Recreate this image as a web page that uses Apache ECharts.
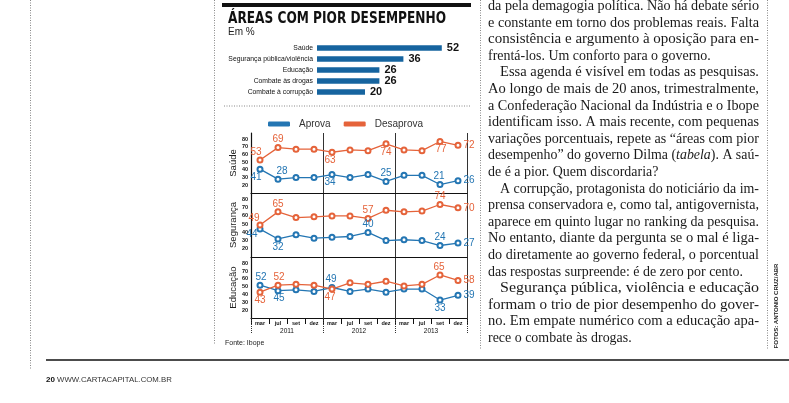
<!DOCTYPE html>
<html><head><meta charset="utf-8">
<script src="https://cdn.jsdelivr.net/npm/echarts@6/dist/echarts.min.js"></script>
<style>html,body{margin:0;padding:0;background:#fff}#c{width:789px;height:403px}</style>
</head><body><div id="c"></div>
<script>
// ---------- data ----------
const barCategories = ['Saúde', 'Segurança pública/violência', 'Educação', 'Combate às drogas', 'Combate à corrupção'];
const barValues = [52, 36, 26, 26, 20];

const months = ['mar','jul','set','dez','mar','jul','set','dez','mar','jul','set','dez'];
const years = ['2011', '2012', '2013'];
const yTicks = [20, 30, 40, 50, 60, 70, 80];

const saudeAprova    = [41, 28, 30, 30, 34, 30, 34, 25, 33, 33, 21, 26];
const saudeDesaprova = [53, 69, 67, 67, 63, 66, 65, 74, 66, 65, 77, 72];
const segAprova      = [44, 32, 37, 33, 34, 35, 40, 30, 31, 30, 24, 27];
const segDesaprova   = [49, 65, 58, 59, 60, 60, 57, 67, 65, 66, 74, 70];
const eduAprova      = [52, 45, 46, 44, 49, 44, 47, 43, 47, 47, 33, 39];
const eduDesaprova   = [43, 52, 53, 52, 47, 55, 53, 57, 51, 53, 65, 58];

// which points carry a value label, and where the label sits relative to the point
const saudeAprovaLbl    = {0:[-4,8], 1:[4,-8], 4:[-2,8], 7:[0,-8], 10:[-1,-8], 11:[11,0]};
const saudeDesaprovaLbl = {0:[-4,-8], 1:[0,-8], 4:[-2,8], 7:[0,8], 10:[1,8], 11:[11,0]};
const segAprovaLbl      = {0:[-8,5], 1:[0,8], 6:[0,-8], 10:[0,-8], 11:[11,0]};
const segDesaprovaLbl   = {0:[-6,-7], 1:[0,-8], 6:[0,-8], 10:[0,-8], 11:[11,0]};
const eduAprovaLbl      = {0:[1,-8], 1:[1,8], 4:[-1,-8], 10:[0,8], 11:[11,0]};
const eduDesaprovaLbl   = {0:[0,8], 1:[1,-8], 4:[-2,8], 10:[-1,-8], 11:[11,0]};

// ---------- text ----------
const bodyLines = [
  ['da pela demagogia política. Não há debate sério', 0, 1],
  ['e constante em torno dos problemas reais. Falta', 0, 1],
  ['consistência e argumento à oposição para en-', 0, 1],
  ['frentá-los. Um conforto para o governo.', 0, 0],
  ['Essa agenda é visível em todas as pesquisas.', 1, 1],
  ['Ao longo de mais de 20 anos, trimestralmente,', 0, 1],
  ['a Confederação Nacional da Indústria e o Ibope', 0, 1],
  ['identificam isso. A mais recente, com pequenas', 0, 1],
  ['variações porcentuais, repete as “áreas com pior', 0, 1],
  ['RICH', 0, 1],
  ['de é a pior. Quem discordaria?', 0, 0],
  ['A corrupção, protagonista do noticiário da im-', 1, 1],
  ['prensa conservadora e, como tal, antigovernista,', 0, 1],
  ['aparece em quinto lugar no ranking da pesquisa.', 0, 1],
  ['No entanto, diante da pergunta se o mal é liga-', 0, 1],
  ['do diretamente ao governo federal, o porcentual', 0, 1],
  ['das respostas surpreende: é de zero por cento.', 0, 0],
  ['Segurança pública, violência e educação', 1, 1],
  ['formam o trio de pior desempenho do gover-', 0, 1],
  ['no. Em empate numérico com a educação apa-', 0, 1],
  ['rece o combate às drogas.', 0, 0]
];
const richParts = ['desempenho” do governo Dilma (', 'tabela', '). A saú-'];

const ctx = document.createElement('canvas').getContext('2d');
function measure(t, f) { ctx.font = f; return ctx.measureText(t).width; }
const SERIF = '"Liberation Serif", "DejaVu Serif", serif';
const FS = 15;
const bodyFont = FS + 'px ' + SERIF;
const bodyItalic = 'italic ' + FS + 'px ' + SERIF;
const colLeft = 488, colRight = 759, indent = 12, lineTop = 6, lineStep = 16.6;
const endScale = 0.93;

const graphics = [];
bodyLines.forEach((ln, i) => {
  const x = colLeft + (ln[1] ? indent : 0);
  const y = lineTop + i * lineStep;
  let w, style;
  if (ln[0] === 'RICH') {
    w = measure(richParts[0], bodyFont) + measure(richParts[1], bodyItalic) + measure(richParts[2], bodyFont);
    style = {
      text: '{n|' + richParts[0] + '}{i|' + richParts[1] + '}{n|' + richParts[2] + '}',
      rich: {
        n: {fontSize: FS, fontFamily: SERIF, fill: '#1a1a1a'},
        i: {fontSize: FS, fontFamily: SERIF, fontStyle: 'italic', fill: '#1a1a1a'}
      },
      fill: '#1a1a1a', verticalAlign: 'middle'
    };
  } else {
    w = measure(ln[0], bodyFont);
    style = {text: ln[0], font: bodyFont, fill: '#1a1a1a', verticalAlign: 'middle'};
  }
  let s = ln[2] ? (colRight - x) / w : Math.min(endScale, (colRight - x) / w);
  graphics.push({type: 'text', x: x, y: y, scaleX: s, style: style, z: 10});
});

// title fitted to width
const TITLE = 'ÁREAS COM PIOR DESEMPENHO';
const titleFont = 'bold 15px "Liberation Sans Narrow", "DejaVu Sans Condensed", "Liberation Sans", sans-serif';
const titleScale = 218 / measure(TITLE, titleFont);
graphics.push({type: 'text', x: 228, y: 19, scaleX: titleScale,
  style: {text: TITLE, font: titleFont, fill: '#111', verticalAlign: 'middle'}});
graphics.push({type: 'text', x: 228, y: 32,
  style: {text: 'Em %', font: '10px "Liberation Sans", sans-serif', fill: '#222', verticalAlign: 'middle'}});
graphics.push({type: 'text', x: 225, y: 343,
  style: {text: 'Fonte: Ibope', font: '7px "Liberation Sans", sans-serif', fill: '#222', verticalAlign: 'middle'}});

// decorations
graphics.push({type: 'rect', shape: {x: 222, y: 3, width: 249, height: 4}, style: {fill: '#111'}});
const dotted = {stroke: '#888', lineWidth: 1, lineDash: [1, 1.5]};
graphics.push({type: 'line', shape: {x1: 224, y1: 106, x2: 471, y2: 106}, style: dotted});
graphics.push({type: 'line', shape: {x1: 30.5, y1: 0, x2: 30.5, y2: 370}, style: dotted});
graphics.push({type: 'line', shape: {x1: 214.5, y1: 0, x2: 214.5, y2: 345}, style: dotted});
graphics.push({type: 'line', shape: {x1: 480.5, y1: 0, x2: 480.5, y2: 350}, style: dotted});
graphics.push({type: 'line', shape: {x1: 767.5, y1: 0, x2: 767.5, y2: 350}, style: dotted});
graphics.push({type: 'line', shape: {x1: 46, y1: 360, x2: 789, y2: 360}, style: {stroke: '#111', lineWidth: 1.5}});
graphics.push({type: 'text', x: 46, y: 380,
  style: {text: '{b|20} WWW.CARTACAPITAL.COM.BR',
    rich: {b: {fontSize: 8, fontWeight: 'bold', fontFamily: '"Liberation Sans", sans-serif', fill: '#111'}},
    font: '7.8px "Liberation Sans", sans-serif', fill: '#333', verticalAlign: 'middle'}});
graphics.push({type: 'text', x: 776, y: 306, rotation: Math.PI / 2,
  style: {text: 'FOTOS: ANTONIO CRUZ/ABR', font: 'bold 6px "Liberation Sans", sans-serif', fill: '#222',
    align: 'center', verticalAlign: 'middle'}});

// ---------- chart ----------
const BLUE = '#2476b3', ORANGE = '#e5633a', BAR = '#16649f';
const panelNames = ['Saúde', 'Segurança', 'Educação'];
const panelTops = [133, 193, 257], panelHeights = [60, 64, 61];

function buildData(vals, lbl, color) {
  return vals.map((v, i) => lbl[i] ? {
    value: v,
    label: {show: true, position: 'inside', offset: lbl[i], color: color, fontSize: 10,
      fontFamily: '"Liberation Sans", sans-serif'}
  } : v);
}
function lineSeries(name, vals, lbl, color, idx) {
  return {
    type: 'line', name: name, xAxisIndex: idx + 1, yAxisIndex: idx + 1,
    data: buildData(vals, lbl, color),
    symbol: 'emptyCircle', symbolSize: 5, color: color,
    lineStyle: {width: 1.3, color: color}, itemStyle: {color: color, borderWidth: 1},
    emphasis: {disabled: true}, animation: false, z: 3
  };
}

const grids = [{left: 317, top: 42.5, width: 144, height: 55}];
panelTops.forEach((t, i) => grids.push({left: 251, top: t, width: 216, height: panelHeights[i]}));

const xAxes = [{type: 'value', gridIndex: 0, min: 0, max: 60, show: false}];
for (let i = 0; i < 3; i++) {
  xAxes.push({
    type: 'category', gridIndex: i + 1, data: months, boundaryGap: true,
    axisLine: {show: true, lineStyle: {color: '#111', width: 1.2}},
    axisTick: {show: i === 2, length: 6, interval: 0, lineStyle: {color: '#111'}},
    axisLabel: {show: i === 2, interval: 0, fontSize: 5.5, fontWeight: 'bold', color: '#111', margin: 2,
      fontFamily: '"Liberation Sans", sans-serif'},
    splitLine: {show: true, interval: (idx) => idx === 4 || idx === 8, lineStyle: {color: '#333', width: 1}}
  });
}
xAxes.push({
  type: 'category', gridIndex: 3, data: years, position: 'bottom', boundaryGap: true,
  axisLine: {show: false},
  axisTick: {show: true, length: 15, interval: 0, lineStyle: {color: '#333', type: 'dotted'}},
  axisLabel: {fontSize: 6.5, color: '#111', margin: 10, fontFamily: '"Liberation Sans", sans-serif'}
});

const yAxes = [{
  type: 'category', gridIndex: 0, data: barCategories, inverse: true,
  axisLine: {show: false}, axisTick: {show: false},
  axisLabel: {fontSize: 6.8, color: '#111', margin: 4, fontFamily: '"Liberation Sans", sans-serif'}
}];
for (let i = 0; i < 3; i++) {
  yAxes.push({
    type: 'value', gridIndex: i + 1, min: 10, max: 88, interval: 10,
    name: panelNames[i], nameLocation: 'middle', nameGap: 13, nameRotate: 90,
    nameTextStyle: {fontSize: 9.5, color: '#222', fontFamily: '"Liberation Sans", sans-serif'},
    axisLine: {show: true, lineStyle: {color: '#111', width: 1.2}},
    axisTick: {show: false}, splitLine: {show: false},
    axisLabel: {fontSize: 5.5, fontWeight: 'bold', color: '#111', margin: 3,
      formatter: (v) => yTicks.indexOf(v) >= 0 ? String(v) : ''}
  });
}

const series = [{
  type: 'bar', xAxisIndex: 0, yAxisIndex: 0, data: barValues, barWidth: 5.5,
  itemStyle: {color: BAR},
  label: {show: true, position: 'right', distance: 5, fontSize: 11, fontWeight: 'bold', color: '#111',
    fontFamily: '"Liberation Sans", sans-serif'},
  animation: false
},
  lineSeries('Aprova', saudeAprova, saudeAprovaLbl, BLUE, 0),
  lineSeries('Desaprova', saudeDesaprova, saudeDesaprovaLbl, ORANGE, 0),
  lineSeries('Aprova', segAprova, segAprovaLbl, BLUE, 1),
  lineSeries('Desaprova', segDesaprova, segDesaprovaLbl, ORANGE, 1),
  lineSeries('Aprova', eduAprova, eduAprovaLbl, BLUE, 2),
  lineSeries('Desaprova', eduDesaprova, eduDesaprovaLbl, ORANGE, 2)
];

const chart = echarts.init(document.getElementById('c'), null, {renderer: 'canvas'});
chart.setOption({
  animation: false,
  backgroundColor: '#fff',
  legend: {
    data: ['Aprova', 'Desaprova'], left: 263, top: 114, icon: 'roundRect',
    itemWidth: 22, itemHeight: 5, itemGap: 13,
    textStyle: {fontSize: 10, color: '#333', fontFamily: '"Liberation Sans", sans-serif', padding: [0, 0, 0, 4]}
  },
  grid: grids, xAxis: xAxes, yAxis: yAxes, series: series,
  graphic: {elements: graphics}
});
</script></body></html>
